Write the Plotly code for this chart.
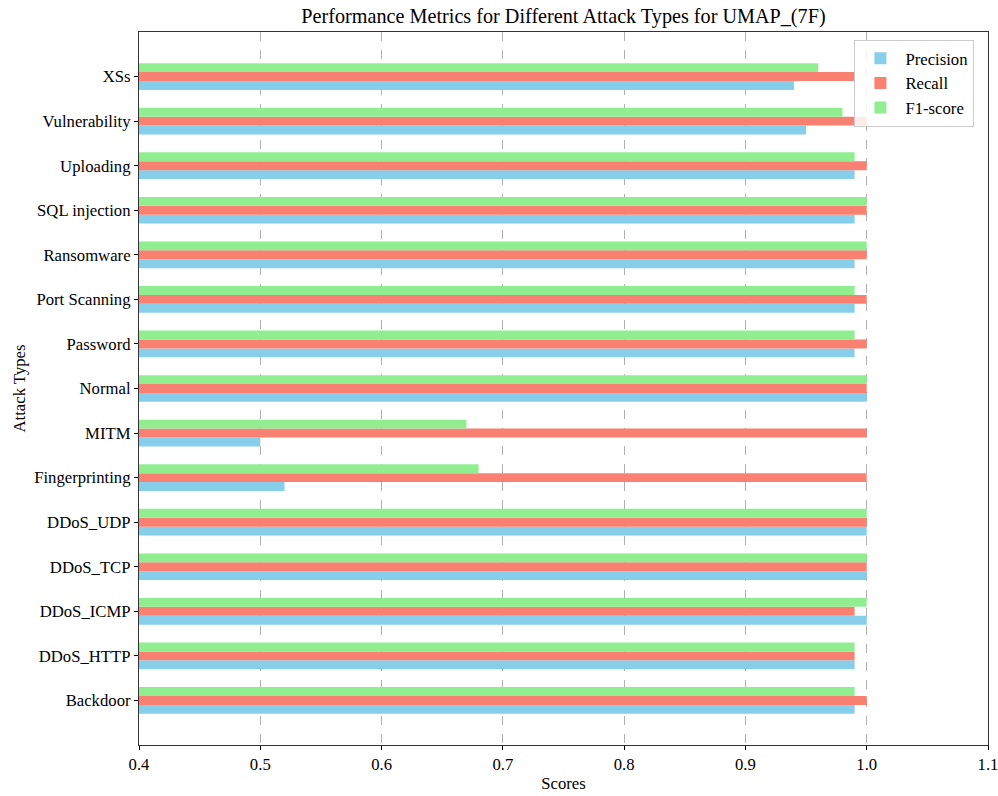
import plotly.graph_objects as go

attack_types = ["Backdoor", "DDoS_HTTP", "DDoS_ICMP", "DDoS_TCP", "DDoS_UDP",
                "Fingerprinting", "MITM", "Normal", "Password", "Port Scanning",
                "Ransomware", "SQL injection", "Uploading", "Vulnerability", "XSs"]
precision = [0.99, 0.99, 1.00, 1.00, 1.00, 0.52, 0.50, 1.00, 0.99, 0.99, 0.99, 0.99, 0.99, 0.95, 0.94]
recall    = [1.00, 0.99, 0.99, 1.00, 1.00, 1.00, 1.00, 1.00, 1.00, 1.00, 1.00, 1.00, 1.00, 1.00, 0.99]
f1_score  = [0.99, 0.99, 1.00, 1.00, 1.00, 0.68, 0.67, 1.00, 0.99, 0.99, 1.00, 1.00, 0.99, 0.98, 0.96]
x_ticks = [0.4, 0.5, 0.6, 0.7, 0.8, 0.9, 1.0, 1.1]

pos = list(range(len(attack_types)))
font_family = "Liberation Serif, Times New Roman, serif"
FS = 16.7

fig = go.Figure()
series = [("Precision", precision, "#87CEEB", -0.3),
          ("Recall", recall, "#FA8072", -0.1),
          ("F1-score", f1_score, "#90EE90", 0.1)]
for name, vals, color, off in series:
    fig.add_trace(go.Bar(
        y=pos, x=vals, orientation="h", name=name,
        marker=dict(color=color, line=dict(width=0)),
        width=0.2, offset=off,
    ))

fig.update_layout(
    barmode="overlay",
    width=998, height=796,
    margin=dict(l=139, r=10, t=32, b=51, autoexpand=False),
    paper_bgcolor="white", plot_bgcolor="white",
    font=dict(family=font_family, size=FS, color="black"),
    title=dict(text="Performance Metrics for Different Attack Types for UMAP_(7F)",
               x=(139 + 988) / 2 / 998, xanchor="center", xref="container",
               y=1 - 16 / 796, yanchor="middle", yref="container",
               font=dict(size=20.2, family=font_family)),
    legend=dict(x=0.984, xanchor="right", y=0.989, yanchor="top",
                bgcolor="rgba(255,255,255,0.85)", bordercolor="#cccccc", borderwidth=1,
                font=dict(size=FS, family=font_family), traceorder="normal",
                itemwidth=40, tracegroupgap=0),
    showlegend=True,
)
fig.update_xaxes(
    range=[0.4, 1.1], tickvals=x_ticks, ticktext=[f"{v:.1f}" for v in x_ticks],
    ticklabeloverflow="allow",
    showgrid=True, gridcolor="#b0b0b0", griddash="dash", gridwidth=1,
    showline=True, linecolor="#333333", linewidth=1.2, mirror=True,
    ticks="outside", ticklen=4, tickcolor="black",
    title=dict(text="Scores", font=dict(size=FS), standoff=4),
    zeroline=False, automargin=False,
)
fig.update_yaxes(
    range=[-1, len(attack_types)], tickvals=pos, ticktext=attack_types,
    showgrid=False,
    showline=True, linecolor="#333333", linewidth=1.2, mirror=True,
    ticks="outside", ticklen=4, tickcolor="black",
    title=dict(text="Attack Types", font=dict(size=FS), standoff=4),
    zeroline=False, automargin=False,
)

fig.write_html("out.html", config={"displayModeBar": False},
               post_script="document.body.style.margin='0';")
